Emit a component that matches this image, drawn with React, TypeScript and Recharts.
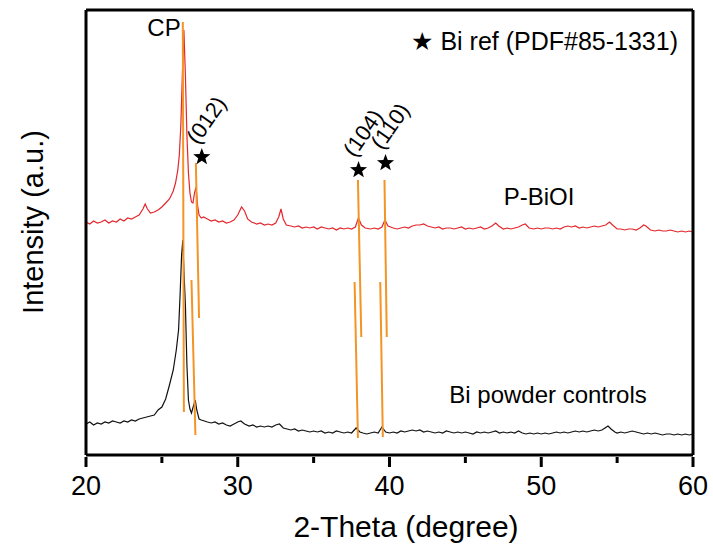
import React from 'react';
import { ComposedChart, Line, XAxis, YAxis, ReferenceLine, Scatter } from 'recharts';

// P-BiOI pattern (red), [2-theta, intensity a.u.]
const pBiOI: [number, number][] = [
  [20.0, 233], [20.25, 231], [20.5, 234], [20.75, 232], [21.0, 233], [21.25, 235], [21.5, 232], [21.75, 234],
  [22.0, 233], [22.25, 236], [22.5, 234], [22.75, 237], [23.0, 236], [23.25, 238], [23.5, 240], [23.75, 246],
  [23.9, 251], [24.05, 246], [24.25, 242], [24.5, 243], [24.75, 245], [25.0, 248], [25.25, 252], [25.5, 256],
  [25.75, 264], [25.9, 272], [26.05, 285], [26.15, 300], [26.25, 330], [26.35, 380], [26.45, 425], [26.55, 380],
  [26.65, 320], [26.75, 282], [26.85, 262], [26.95, 253], [27.05, 252], [27.15, 262], [27.25, 268], [27.35, 250],
  [27.45, 240], [27.6, 237], [27.75, 238], [28.0, 236], [28.25, 234], [28.5, 235], [28.75, 233], [29.0, 234],
  [29.25, 232], [29.5, 233], [29.75, 235], [30.0, 240], [30.25, 248], [30.45, 244], [30.65, 236], [30.9, 233],
  [31.25, 231], [31.5, 232], [31.75, 230], [32.0, 231], [32.25, 230], [32.5, 232], [32.7, 238], [32.85, 246],
  [33.0, 236], [33.2, 230], [33.5, 229], [33.75, 228], [34.0, 229], [34.25, 227], [34.5, 228], [34.75, 227],
  [35.0, 228], [35.25, 226], [35.5, 228], [35.75, 227], [36.0, 226], [36.25, 227], [36.5, 225], [36.75, 227],
  [37.0, 226], [37.25, 227], [37.5, 226], [37.75, 228], [37.95, 237], [38.15, 230], [38.4, 227], [38.75, 226],
  [39.0, 227], [39.25, 226], [39.5, 228], [39.7, 235], [39.9, 229], [40.25, 227], [40.5, 226], [40.75, 227],
  [41.0, 228], [41.25, 227], [41.5, 229], [41.75, 230], [42.0, 230], [42.25, 231], [42.5, 229], [42.75, 228],
  [43.0, 227], [43.25, 228], [43.5, 226], [43.75, 227], [44.0, 227], [44.25, 226], [44.5, 227], [44.75, 228],
  [45.0, 226], [45.25, 227], [45.5, 226], [45.75, 227], [46.0, 228], [46.25, 226], [46.5, 227], [46.75, 229],
  [47.0, 232], [47.2, 229], [47.5, 226], [47.75, 227], [48.0, 226], [48.25, 227], [48.5, 228], [48.75, 230],
  [48.95, 231], [49.2, 227], [49.5, 226], [49.75, 227], [50.0, 226], [50.25, 227], [50.5, 227], [50.75, 226],
  [51.0, 227], [51.25, 226], [51.5, 228], [51.75, 229], [52.0, 228], [52.25, 229], [52.5, 227], [52.75, 228],
  [53.0, 227], [53.25, 228], [53.5, 229], [53.75, 228], [54.0, 229], [54.25, 230], [54.5, 233], [54.7, 230],
  [55.0, 226], [55.25, 226], [55.5, 225], [55.75, 226], [56.0, 226], [56.25, 225], [56.5, 227], [56.75, 230],
  [56.9, 229], [57.2, 225], [57.5, 224], [57.75, 225], [58.0, 224], [58.25, 224], [58.5, 225], [58.75, 224],
  [59.0, 223], [59.25, 224], [59.5, 223], [59.75, 224], [60.0, 223],
];

// Bi powder controls pattern (black)
const biPowder: [number, number][] = [
  [20.0, 31], [20.25, 33], [20.5, 30], [20.75, 32], [21.0, 31], [21.25, 33], [21.5, 32], [21.75, 34],
  [22.0, 33], [22.25, 32], [22.5, 34], [22.75, 33], [23.0, 35], [23.25, 34], [23.5, 36], [23.75, 37],
  [24.0, 38], [24.25, 39], [24.5, 40], [24.75, 45], [25.0, 48], [25.25, 56], [25.5, 70], [25.75, 85],
  [25.95, 105], [26.1, 125], [26.2, 160], [26.3, 200], [26.38, 215], [26.45, 185], [26.55, 150], [26.65, 90],
  [26.75, 55], [26.85, 46], [26.95, 42], [27.1, 50], [27.2, 55], [27.3, 45], [27.45, 36], [27.6, 35],
  [27.8, 34], [28.0, 33], [28.25, 32], [28.5, 33], [28.75, 31], [29.0, 32], [29.25, 30], [29.5, 29],
  [29.75, 31], [30.0, 33], [30.2, 34], [30.45, 31], [30.75, 29], [31.0, 30], [31.25, 28], [31.5, 29],
  [31.75, 28], [32.0, 29], [32.25, 28], [32.5, 30], [32.75, 31], [33.0, 27], [33.25, 26], [33.5, 25],
  [33.75, 26], [34.0, 24], [34.25, 25], [34.5, 24], [34.75, 23], [35.0, 24], [35.25, 23], [35.5, 24],
  [35.75, 22], [36.0, 23], [36.25, 22], [36.5, 24], [36.75, 23], [37.0, 22], [37.25, 23], [37.5, 22],
  [37.8, 27], [38.05, 23], [38.25, 22], [38.5, 21], [38.75, 22], [39.0, 23], [39.25, 22], [39.5, 28],
  [39.75, 23], [40.0, 22], [40.25, 23], [40.5, 22], [40.75, 24], [41.0, 23], [41.25, 24], [41.5, 25],
  [41.75, 24], [42.0, 25], [42.25, 23], [42.5, 24], [42.75, 23], [43.0, 22], [43.25, 23], [43.5, 22],
  [43.75, 24], [44.0, 23], [44.25, 22], [44.5, 23], [44.75, 22], [45.0, 23], [45.25, 22], [45.5, 21],
  [45.75, 23], [46.0, 22], [46.25, 23], [46.5, 22], [46.75, 23], [47.0, 24], [47.25, 22], [47.5, 23],
  [47.75, 22], [48.0, 23], [48.25, 22], [48.5, 24], [48.75, 22], [49.0, 21], [49.25, 22], [49.5, 21],
  [49.75, 22], [50.0, 21], [50.25, 22], [50.5, 21], [50.75, 22], [51.0, 23], [51.25, 22], [51.5, 23],
  [51.75, 22], [52.0, 23], [52.25, 24], [52.5, 23], [52.75, 24], [53.0, 23], [53.25, 24], [53.5, 25],
  [53.75, 24], [54.0, 25], [54.2, 27], [54.4, 29], [54.6, 26], [54.85, 23], [55.0, 22], [55.25, 23],
  [55.5, 22], [55.75, 23], [56.0, 24], [56.25, 23], [56.5, 22], [56.75, 21], [57.0, 22], [57.25, 21],
  [57.5, 22], [57.75, 21], [58.0, 20], [58.25, 21], [58.5, 21], [58.75, 20], [59.0, 21], [59.25, 20],
  [59.5, 21], [59.75, 20], [60.0, 21],
];

// orange reference sticks: [theta top, intensity top, theta bottom, intensity bottom]
const refSticks: [number, number, number, number][] = [
  [26.38, 433, 26.45, 43],
  [27.24, 292, 27.45, 137],
  [26.95, 175, 27.21, 20],
  [37.92, 275, 38.14, 118],
  [37.7, 173, 37.92, 17],
  [39.67, 275, 39.82, 118],
  [39.39, 173, 39.56, 18],
];

// Bi reflections marked with a star
const biPeaks = [
  { t: 27.63, i: 298, hkl: '(012)' },
  { t: 37.96, i: 285, hkl: '(104)' },
  { t: 39.74, i: 292, hkl: '(110)' },
];

const thetaTicks = [20, 25, 30, 35, 40, 45, 50, 55, 60];
const majorTicks = [20, 30, 40, 50, 60];

const FONT = '"Liberation Sans", Arial, sans-serif';
const FRAME = { stroke: '#000', strokeWidth: 3 };
const toRows = (pts: [number, number][]) => pts.map(([t, i]) => ({ t, i }));

function starPath(cx: number, cy: number, R: number) {
  const r = R * 0.42;
  let d = '';
  for (let k = 0; k < 10; k++) {
    const rad = k % 2 === 0 ? R : r;
    const a = -Math.PI / 2 + (k * Math.PI) / 5;
    d += (k === 0 ? 'M' : 'L') + (cx + rad * Math.cos(a)).toFixed(2) + ',' + (cy + rad * Math.sin(a)).toFixed(2);
  }
  return d + 'Z';
}

function StarMark(props: any) {
  const { cx, cy, payload } = props;
  return (
    <g>
      <path d={starPath(cx, cy, 9)} fill="#000" />
      <text
        x={cx + 6}
        y={cy - 36}
        fontSize={22}
        fontFamily={FONT}
        textAnchor="middle"
        dominantBaseline="middle"
        transform={`rotate(-55 ${cx + 6} ${cy - 36})`}
      >
        {payload.hkl}
      </text>
    </g>
  );
}

function ThetaTick({ x, y, payload }: any) {
  const major = majorTicks.includes(payload.value);
  return (
    <g>
      <line x1={x} x2={x} y1={y} y2={y + (major ? 10 : 6)} stroke="#000" strokeWidth={3} />
      {major && (
        <text x={x} y={y + 38} textAnchor="middle" fontSize={27} fontFamily={FONT} fill="#000">
          {payload.value}
        </text>
      )}
    </g>
  );
}

export default function App() {
  return (
    <div style={{ position: 'absolute', left: 0, top: 0, background: '#fff' }}>
      <ComposedChart width={713} height={552} margin={{ top: 9, right: 19, left: 85, bottom: 37 }}>
        <XAxis
          type="number"
          dataKey="t"
          domain={[20, 60]}
          ticks={thetaTicks}
          tick={<ThetaTick />}
          tickLine={false}
          tickSize={0}
          axisLine={FRAME}
          height={60}
          allowDataOverflow
        />
        <XAxis xAxisId="top" orientation="top" type="number" domain={[20, 60]} height={1} tick={false} tickLine={false} axisLine={FRAME} />
        <YAxis type="number" dataKey="i" domain={[0, 445]} width={1} tick={false} tickLine={false} axisLine={FRAME} allowDataOverflow />
        <YAxis yAxisId="right" orientation="right" type="number" domain={[0, 445]} width={1} tick={false} tickLine={false} axisLine={FRAME} />
        <Line data={toRows(pBiOI)} dataKey="i" stroke="#e3262b" strokeWidth={1.2} dot={false} isAnimationActive={false} />
        <Line data={toRows(biPowder)} dataKey="i" stroke="#111" strokeWidth={1.2} dot={false} isAnimationActive={false} />
        {refSticks.map(([t1, i1, t2, i2], k) => (
          <ReferenceLine
            key={k}
            segment={[{ x: t1, y: i1 }, { x: t2, y: i2 }]}
            stroke="#f39425"
            strokeWidth={2}
            ifOverflow="visible"
          />
        ))}
        <Scatter data={biPeaks} dataKey="i" shape={<StarMark />} isAnimationActive={false} />
        <text x={164} y={36} textAnchor="middle" fontSize={24} fontFamily={FONT}>CP</text>
        <text x={678} y={50} textAnchor="end" fontSize={25} fontFamily={FONT}>★ Bi ref (PDF#85-1331)</text>
        <text x={539} y={205} textAnchor="middle" fontSize={24} fontFamily={FONT}>P-BiOI</text>
        <text x={548} y={403} textAnchor="middle" fontSize={24} fontFamily={FONT}>Bi powder controls</text>
        <text x={406} y={537} textAnchor="middle" fontSize={30} fontFamily={FONT}>2-Theta (degree)</text>
        <text x={43} y={222} textAnchor="middle" fontSize={29} fontFamily={FONT} transform="rotate(-90 43 222)">
          Intensity (a.u.)
        </text>
      </ComposedChart>
    </div>
  );
}
